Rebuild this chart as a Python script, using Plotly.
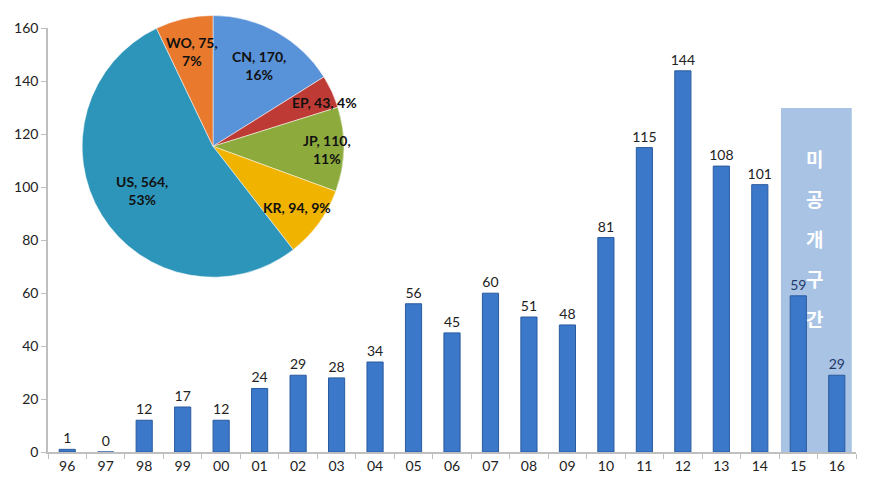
import math
import plotly.graph_objects as go

years = ["96","97","98","99","00","01","02","03","04","05","06","07","08","09","10","11","12","13","14","15","16"]
counts = [1,0,12,17,12,24,29,28,34,56,45,60,51,48,81,115,144,108,101,59,29]
unpublished = ["15","16"]

pie_labels = ["CN","EP","JP","KR","US","WO"]
pie_values = [170,43,110,94,564,75]
pie_pcts = ["16%","4%","11%","9%","53%","7%"]
pie_colors = ["#5892d8","#be3b35","#8daa3c","#efb300","#2e95ba","#e9792d"]
pie_label_radius = [0.72, 0.94, 0.87, 0.79, 0.64, 0.74]   # label distance from centre (fraction of radius)
pie_label_yshift = [-2, -8, 0, 0, 0, 0]
pie_two_line = [True, False, True, False, True, True]

shade_label = "미공개구간"
shade_top = 130

FONT = "Lato"
W, H = 873, 492
ML, MR, MT, MB = 48, 17, 2, 40
PW = W - ML - MR
PH = H - MT - MB - 8.5   # effective plot height as rendered

label_colors = ["#1f3a6a" if y in unpublished else "#222222" for y in years]

fig = go.Figure()
fig.add_trace(go.Bar(
    x=years, y=counts,
    text=[str(v) for v in counts], textposition="outside", constraintext="none",
    textfont=dict(family=FONT, size=14, color=label_colors),
    cliponaxis=False,
    marker=dict(color="#3b78c9", line=dict(color="#2a5a9e", width=1)),
    width=0.42, showlegend=False, hoverinfo="skip",
))

# pie geometry (paper coordinates)
r_px = 131
pcx = (213 - ML) / PW
pcy = (452 - 146) / PH
dom_x = [pcx - r_px / PW, pcx + r_px / PW]
dom_y = [max(0, pcy - r_px / PH), min(1, pcy + r_px / PH)]

fig.add_trace(go.Pie(
    labels=pie_labels, values=pie_values,
    textinfo="none", sort=False, direction="clockwise", rotation=0,
    marker=dict(colors=pie_colors, line=dict(color="#ffffff", width=0.5)),
    domain=dict(x=dom_x, y=dom_y),
    showlegend=False, hoverinfo="skip",
))

total = sum(pie_values)
cum = 0
for lab, val, pct, rf, ys, two in zip(pie_labels, pie_values, pie_pcts, pie_label_radius,
                                      pie_label_yshift, pie_two_line):
    mid = (cum + val / 2) / total * 2 * math.pi
    cum += val
    dx = math.sin(mid) * rf * r_px
    dy = math.cos(mid) * rf * r_px
    txt = f"{lab}, {val},<br>{pct}" if two else f"{lab}, {val}, {pct}"
    fig.add_annotation(x=pcx + dx / PW, y=pcy + dy / PH, xref="paper", yref="paper",
                       xanchor="center", yanchor="middle", yshift=ys,
                       text=txt, showarrow=False, align="center",
                       font=dict(family=FONT, size=14, color="#111111", weight="bold"))

i0 = years.index(unpublished[0])
i1 = years.index(unpublished[-1])
fig.add_shape(type="rect", xref="x", yref="y",
              x0=i0 - 0.45, x1=i1 + 0.39, y0=0, y1=shade_top,
              fillcolor="#a9c3e4", line=dict(width=0), layer="below")

for k, ch in enumerate(shade_label):
    fig.add_annotation(x=i0 + 0.43, y=111 - k * 15.1, xref="x", yref="y",
                       text=ch, showarrow=False,
                       font=dict(family="Noto Sans CJK KR", size=19, color="white", weight="bold"))

fig.update_layout(
    width=W, height=H,
    margin=dict(l=ML, r=MR, t=MT, b=MB),
    paper_bgcolor="white", plot_bgcolor="white",
    font=dict(family=FONT, size=14, color="#222222"),
    bargap=0.58,
    xaxis=dict(type="category", showline=True, linecolor="#bfbfbf", linewidth=1.5,
               ticks="outside", tickson="boundaries", ticklen=5, tickcolor="#bfbfbf",
               tickfont=dict(family=FONT, size=14, color="#222222"), showgrid=False),
    yaxis=dict(range=[0, 160], dtick=20, domain=[0, (452 - 28) / PH], showline=True,
               linecolor="#bfbfbf", linewidth=1.5, ticks="outside", ticklen=5,
               tickcolor="#bfbfbf", showgrid=False, zeroline=False,
               tickfont=dict(family=FONT, size=14, color="#222222")),
)

fig.write_html("out.html")
